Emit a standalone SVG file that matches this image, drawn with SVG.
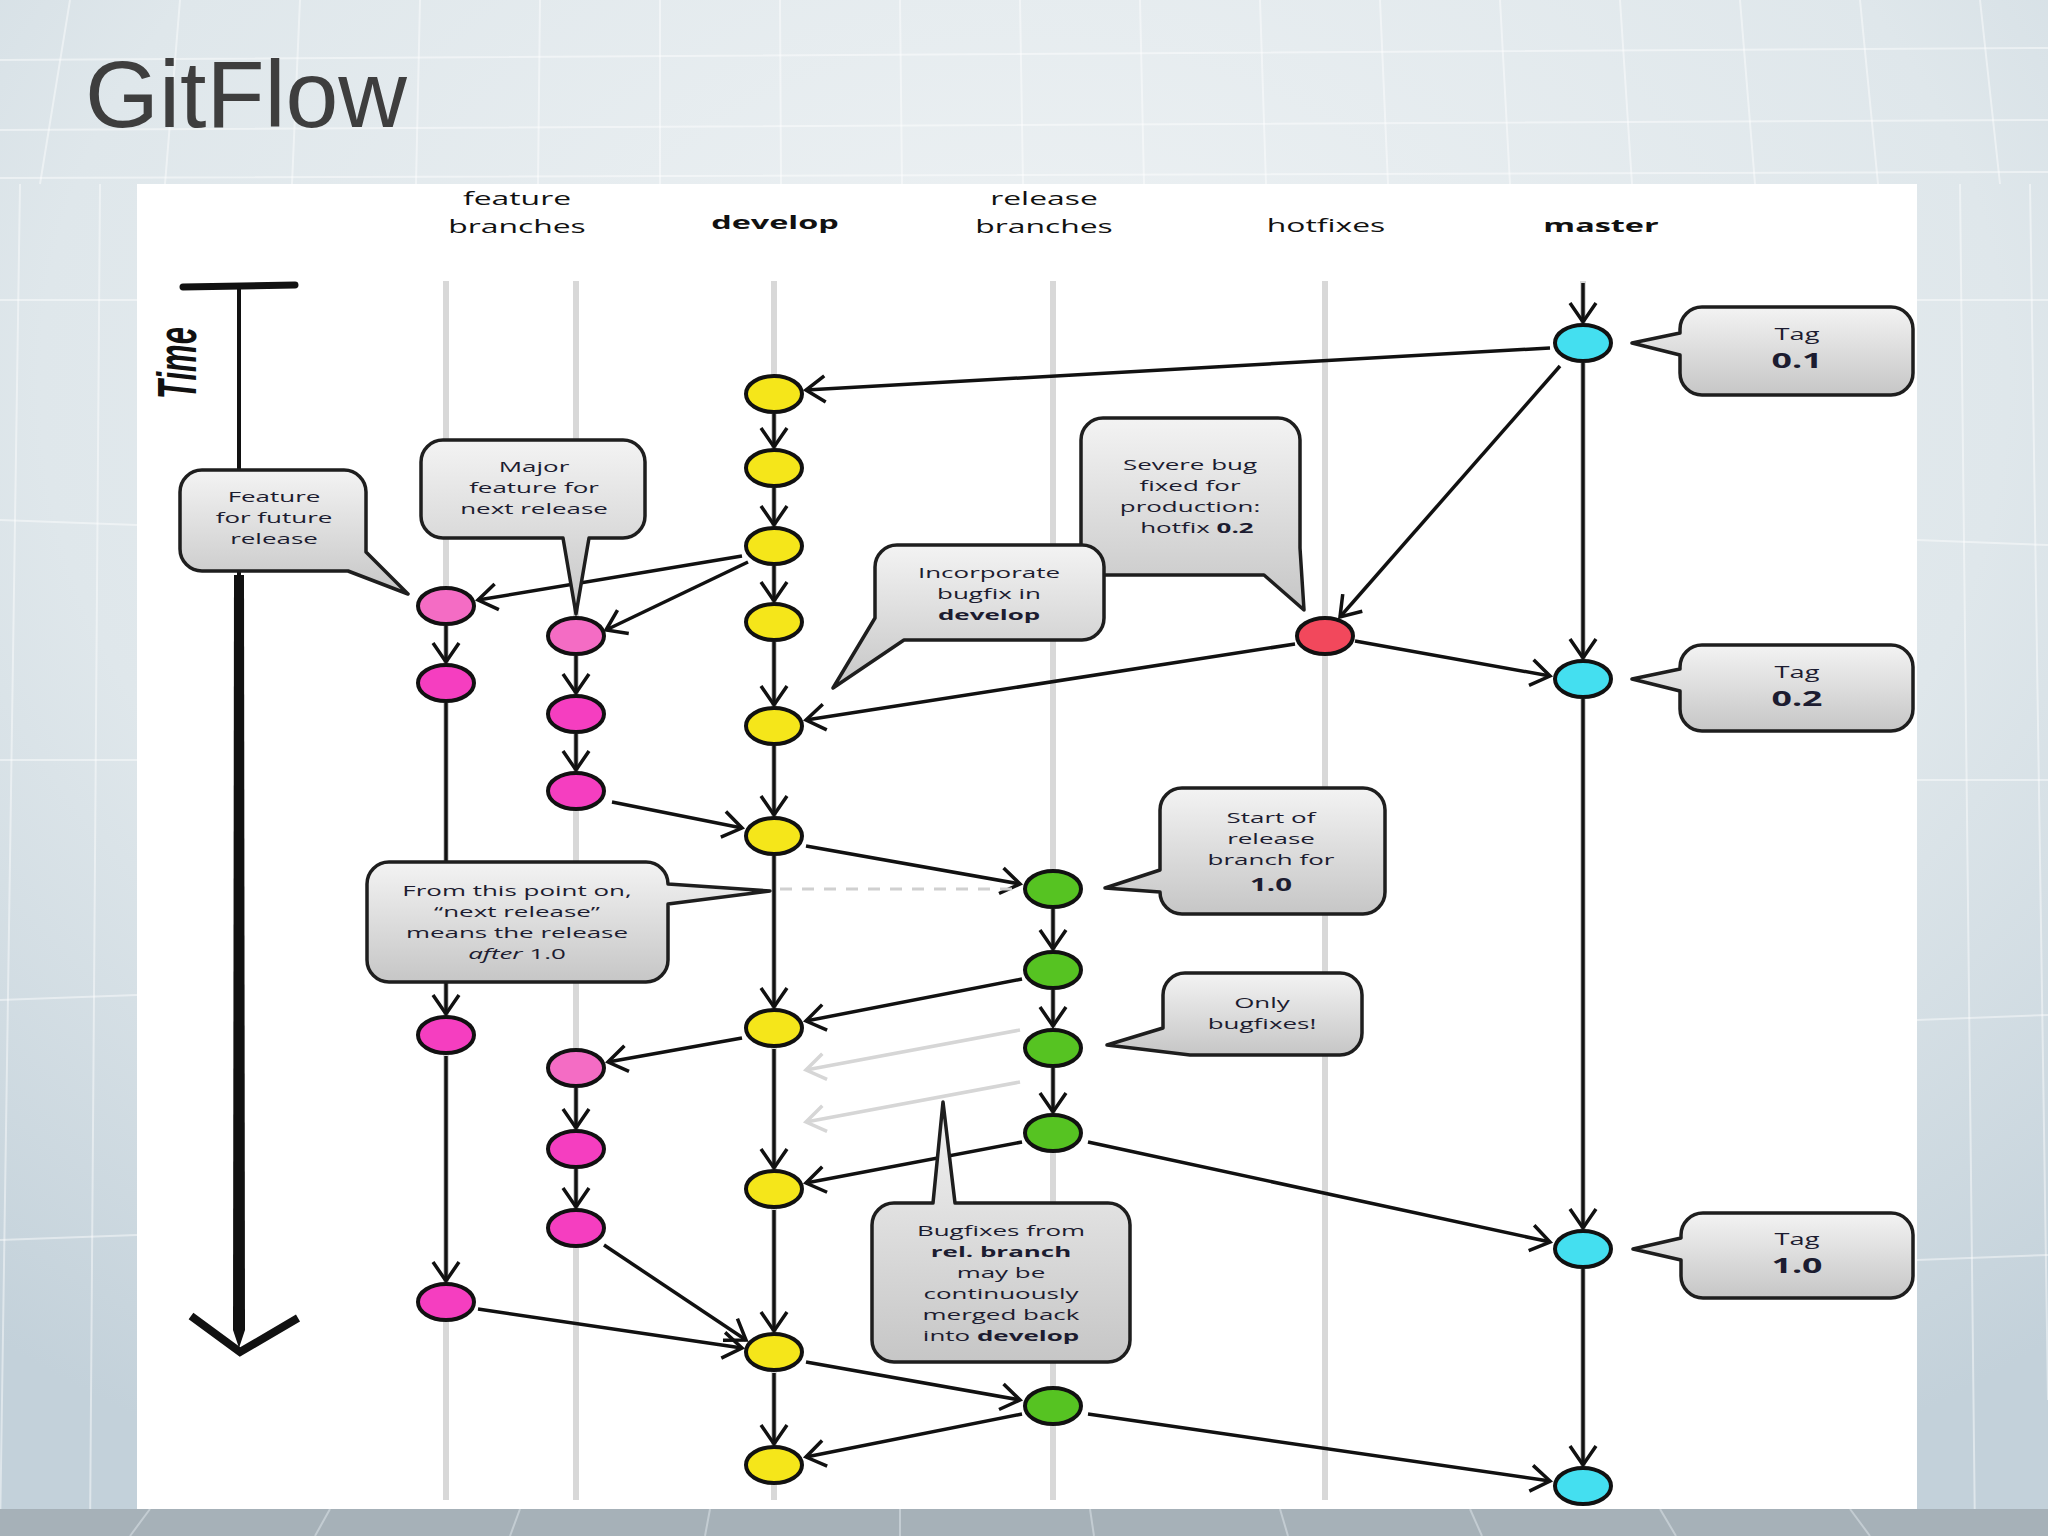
<svg xmlns="http://www.w3.org/2000/svg" width="2048" height="1536" viewBox="0 0 2048 1536">
<defs>
<radialGradient id="bg" cx="0.5" cy="0.25" r="0.8">
<stop offset="0" stop-color="#eef2f4"/>
<stop offset="0.6" stop-color="#dfe7eb"/>
<stop offset="1" stop-color="#c3d1da"/>
</radialGradient>
<linearGradient id="cg" x1="0" y1="0" x2="0" y2="1">
<stop offset="0" stop-color="#f3f3f3"/>
<stop offset="1" stop-color="#c6c6c6"/>
</linearGradient>
<marker id="ah" markerUnits="userSpaceOnUse" markerWidth="30" markerHeight="30" viewBox="0 0 30 30" refX="26" refY="15" orient="auto">
<path d="M7,2 L26,15 L7,28" fill="none" stroke="#111" stroke-width="3.5" stroke-linejoin="miter"/>
</marker>
<marker id="ahg" markerUnits="userSpaceOnUse" markerWidth="30" markerHeight="30" viewBox="0 0 30 30" refX="26" refY="15" orient="auto">
<path d="M7,2 L26,15 L7,28" fill="none" stroke="#d6d6d6" stroke-width="3.5"/>
</marker>
<style>
.hd{font-family:"Open Sans","Noto Sans",sans-serif;font-size:18px;fill:#111;text-anchor:middle}
.b{font-weight:bold}
.ct{font-family:"Open Sans","Noto Sans",sans-serif;font-size:15px;fill:#1c1c30;text-anchor:middle}
.tg{font-family:"Open Sans","Noto Sans",sans-serif;fill:#1c1c30;text-anchor:middle}
.lane{stroke:#d8d8d8;stroke-width:6}
.c{stroke:#111;stroke-width:3.5;fill:none}
.cf{stroke:#d6d6d6;stroke-width:3.5;fill:none}
.co{fill:url(#cg);stroke:#1e1e1e;stroke-width:3.5;stroke-linejoin:round}
.n{stroke:#111;stroke-width:4}
.y{fill:#f5e61a}.g{fill:#56c322}.cy{fill:#44dff0}.r{fill:#f2485c}.pl{fill:#f46cc4}.ph{fill:#f53ec0}
.grid{stroke:#ffffff;stroke-opacity:0.45;stroke-width:2;fill:none}
</style>
</defs>

<!-- slide background -->
<rect x="0" y="0" width="2048" height="1536" fill="url(#bg)"/>
<g class="grid">
<path d="M70,0 L40,184 M180,0 L165,184 M300,0 L292,184 M420,0 L416,184 M540,0 L538,184 M660,0 L660,184 M780,0 L781,184 M900,0 L902,184 M1020,0 L1023,184 M1140,0 L1144,184 M1260,0 L1266,184 M1380,0 L1388,184 M1500,0 L1510,184 M1620,0 L1632,184 M1740,0 L1755,184 M1860,0 L1878,184 M1980,0 L2000,184"/>
<path d="M0,60 L2048,48 M0,130 L2048,120 M0,178 L2048,172"/>
<path d="M20,184 L0,1536 M100,184 L90,1536 M1960,184 L1975,1536 M2030,184 L2048,1400"/>
<path d="M0,300 L137,300 M0,520 L137,525 M0,760 L137,760 M0,1000 L137,995 M0,1240 L137,1235 M1917,300 L2048,300 M1917,540 L2048,545 M1917,780 L2048,780 M1917,1020 L2048,1015 M1917,1260 L2048,1255"/>
</g>
<rect x="0" y="1509" width="2048" height="27" fill="#a6b1b8"/>
<path d="M150,1509 L130,1536 M330,1509 L315,1536 M520,1509 L510,1536 M710,1509 L705,1536 M900,1509 L900,1536 M1090,1509 L1094,1536 M1280,1509 L1288,1536 M1470,1509 L1482,1536 M1660,1509 L1676,1536 M1850,1509 L1870,1536" stroke="#c3ccd2" stroke-width="2"/>

<!-- title -->
<text id="title" x="85" y="127" font-family="Liberation Sans, Arial, sans-serif" font-size="95" fill="#3e3e3e">GitFlow</text>

<!-- white panel -->
<rect id="panel" x="137" y="184" width="1780" height="1325" fill="#ffffff"/>

<!-- column headers -->
<g id="headers">
<text class="hd" transform="translate(517,0) scale(1.77,1)"><tspan x="0" y="205">feature</tspan><tspan x="0" y="233">branches</tspan></text>
<text class="hd b" transform="translate(775,0) scale(1.8,1)" x="0" y="229">develop</text>
<text class="hd" transform="translate(1044,0) scale(1.77,1)"><tspan x="0" y="205">release</tspan><tspan x="0" y="233">branches</tspan></text>
<text class="hd" transform="translate(1326,0) scale(1.77,1)" x="0" y="232">hotfixes</text>
<text class="hd b" transform="translate(1601,0) scale(1.8,1)" x="0" y="232">master</text>
</g>

<!-- lanes -->
<g id="lanes">
<line class="lane" x1="446" y1="281" x2="446" y2="1500"/>
<line class="lane" x1="576" y1="281" x2="576" y2="1500"/>
<line class="lane" x1="774" y1="281" x2="774" y2="1500"/>
<line class="lane" x1="1053" y1="281" x2="1053" y2="1500"/>
<line class="lane" x1="1325" y1="281" x2="1325" y2="1500"/>
<line class="lane" x1="1583" y1="281" x2="1583" y2="1500"/>
</g>

<!-- time axis -->
<g id="time">
<path d="M183,287 L295,285" stroke="#111" stroke-width="7" stroke-linecap="round"/>
<line x1="239" y1="287" x2="239" y2="580" stroke="#111" stroke-width="4"/>
<path d="M234,575 L244,575 L245,1330 L239,1348 L233,1330 Z" fill="#111"/>
<path d="M191,1316 L240,1352 L298,1318" fill="none" stroke="#111" stroke-width="8" stroke-linejoin="miter"/>
<text transform="translate(196,363) rotate(-90) scale(1,1.8)" font-family="Liberation Sans, Arial, sans-serif" font-size="31" font-weight="bold" font-style="italic" text-anchor="middle" fill="#111">Time</text>
</g>

<!-- connectors -->
<g id="connectors">
<g marker-end="url(#ah)" class="c">
<line x1="774" y1="414" x2="774" y2="447"/>
<line x1="774" y1="488" x2="774" y2="525"/>
<line x1="774" y1="566" x2="774" y2="601"/>
<line x1="774" y1="642" x2="774" y2="705"/>
<line x1="774" y1="746" x2="774" y2="815"/>
<line x1="774" y1="856" x2="774" y2="1007"/>
<line x1="774" y1="1049" x2="774" y2="1168"/>
<line x1="774" y1="1210" x2="774" y2="1331"/>
<line x1="774" y1="1373" x2="774" y2="1444"/>
<line x1="446" y1="626" x2="446" y2="662"/>
<line x1="446" y1="703" x2="446" y2="1014"/>
<line x1="446" y1="1056" x2="446" y2="1281"/>
<line x1="576" y1="656" x2="576" y2="693"/>
<line x1="576" y1="734" x2="576" y2="770"/>
<line x1="576" y1="1088" x2="576" y2="1128"/>
<line x1="576" y1="1169" x2="576" y2="1207"/>
<line x1="1053" y1="909" x2="1053" y2="949"/>
<line x1="1053" y1="990" x2="1053" y2="1026"/>
<line x1="1053" y1="1068" x2="1053" y2="1112"/>
<line x1="1583" y1="283" x2="1583" y2="322"/>
<line x1="1583" y1="363" x2="1583" y2="658"/>
<line x1="1583" y1="699" x2="1583" y2="1228"/>
<line x1="1583" y1="1269" x2="1583" y2="1465"/>
<line x1="1550" y1="348" x2="806" y2="390"/>
<line x1="1560" y1="366" x2="1340" y2="617"/>
<line x1="1355" y1="641" x2="1550" y2="676"/>
<line x1="1295" y1="644" x2="806" y2="720"/>
<line x1="742" y1="556" x2="478" y2="600"/>
<line x1="748" y1="562" x2="606" y2="630"/>
<line x1="612" y1="802" x2="742" y2="828"/>
<line x1="806" y1="846" x2="1020" y2="884"/>
<line x1="1022" y1="979" x2="806" y2="1021"/>
<line x1="742" y1="1038" x2="608" y2="1062"/>
<line x1="1022" y1="1142" x2="806" y2="1183"/>
<line x1="1088" y1="1142" x2="1550" y2="1242"/>
<line x1="604" y1="1245" x2="746" y2="1340"/>
<line x1="478" y1="1309" x2="742" y2="1348"/>
<line x1="806" y1="1362" x2="1020" y2="1400"/>
<line x1="1022" y1="1414" x2="806" y2="1457"/>
<line x1="1088" y1="1414" x2="1550" y2="1481"/>
</g>
<g marker-end="url(#ahg)" class="cf">
<line x1="1020" y1="1030" x2="806" y2="1070"/>
<line x1="1020" y1="1082" x2="806" y2="1122"/>
</g>
<line x1="780" y1="889" x2="1022" y2="889" stroke="#d0d0d0" stroke-width="3" stroke-dasharray="12 10"/>
</g>

<!-- nodes -->
<g id="nodes">
<g id="develop-1"><ellipse class="n y" cx="774" cy="394" rx="28" ry="18"/></g>
<g id="develop-2"><ellipse class="n y" cx="774" cy="468" rx="28" ry="18"/></g>
<g id="develop-3"><ellipse class="n y" cx="774" cy="546" rx="28" ry="18"/></g>
<g id="develop-4"><ellipse class="n y" cx="774" cy="622" rx="28" ry="18"/></g>
<g id="develop-5"><ellipse class="n y" cx="774" cy="726" rx="28" ry="18"/></g>
<g id="develop-6"><ellipse class="n y" cx="774" cy="836" rx="28" ry="18"/></g>
<g id="develop-7"><ellipse class="n y" cx="774" cy="1028" rx="28" ry="18"/></g>
<g id="develop-8"><ellipse class="n y" cx="774" cy="1189" rx="28" ry="18"/></g>
<g id="develop-9"><ellipse class="n y" cx="774" cy="1352" rx="28" ry="18"/></g>
<g id="develop-10"><ellipse class="n y" cx="774" cy="1465" rx="28" ry="18"/></g>
<g id="feature1-1"><ellipse class="n pl" cx="446" cy="606" rx="28" ry="18"/></g>
<g id="feature1-2"><ellipse class="n ph" cx="446" cy="683" rx="28" ry="18"/></g>
<g id="feature1-3"><ellipse class="n ph" cx="446" cy="1035" rx="28" ry="18"/></g>
<g id="feature1-4"><ellipse class="n ph" cx="446" cy="1302" rx="28" ry="18"/></g>
<g id="feature2-1"><ellipse class="n pl" cx="576" cy="636" rx="28" ry="18"/></g>
<g id="feature2-2"><ellipse class="n ph" cx="576" cy="714" rx="28" ry="18"/></g>
<g id="feature2-3"><ellipse class="n ph" cx="576" cy="791" rx="28" ry="18"/></g>
<g id="feature2-4"><ellipse class="n pl" cx="576" cy="1068" rx="28" ry="18"/></g>
<g id="feature2-5"><ellipse class="n ph" cx="576" cy="1149" rx="28" ry="18"/></g>
<g id="feature2-6"><ellipse class="n ph" cx="576" cy="1228" rx="28" ry="18"/></g>
<g id="release-1"><ellipse class="n g" cx="1053" cy="889" rx="28" ry="18"/></g>
<g id="release-2"><ellipse class="n g" cx="1053" cy="970" rx="28" ry="18"/></g>
<g id="release-3"><ellipse class="n g" cx="1053" cy="1048" rx="28" ry="18"/></g>
<g id="release-4"><ellipse class="n g" cx="1053" cy="1133" rx="28" ry="18"/></g>
<g id="release-5"><ellipse class="n g" cx="1053" cy="1406" rx="28" ry="18"/></g>
<g id="hotfix-1"><ellipse class="n r" cx="1325" cy="636" rx="28" ry="18"/></g>
<g id="master-1"><ellipse class="n cy" cx="1583" cy="343" rx="28" ry="18"/></g>
<g id="master-2"><ellipse class="n cy" cx="1583" cy="679" rx="28" ry="18"/></g>
<g id="master-3"><ellipse class="n cy" cx="1583" cy="1249" rx="28" ry="18"/></g>
<g id="master-4"><ellipse class="n cy" cx="1583" cy="1486" rx="28" ry="18"/></g>
</g>

<!-- callouts -->
<g id="callout-future">
<path class="co" d="M202,470 H344 A22,22 0 0 1 366,492 V552 L408,594 L348,571 H202 A22,22 0 0 1 180,549 V492 A22,22 0 0 1 202,470 Z"/>
<text class="ct" transform="translate(274,0) scale(1.73,1)"><tspan x="0" y="502">Feature</tspan><tspan x="0" y="523">for future</tspan><tspan x="0" y="544">release</tspan></text>
</g>
<g id="callout-major">
<path class="co" d="M443,440 H623 A22,22 0 0 1 645,462 V516 A22,22 0 0 1 623,538 H589 L576,614 L563,538 H443 A22,22 0 0 1 421,516 V462 A22,22 0 0 1 443,440 Z"/>
<text class="ct" transform="translate(534,0) scale(1.73,1)"><tspan x="0" y="472">Major</tspan><tspan x="0" y="493">feature for</tspan><tspan x="0" y="514">next release</tspan></text>
</g>
<g id="callout-severe">
<path class="co" d="M1103,418 H1278 A22,22 0 0 1 1300,440 V548 L1304,610 L1264,575 H1103 A22,22 0 0 1 1081,553 V440 A22,22 0 0 1 1103,418 Z"/>
<text class="ct" transform="translate(1190,0) scale(1.73,1)"><tspan x="0" y="470">Severe bug</tspan><tspan x="0" y="491">fixed for</tspan><tspan x="0" y="512">production:</tspan><tspan x="4" y="533">hotfix <tspan class="b">0.2</tspan></tspan></text>
</g>
<g id="callout-incorporate">
<path class="co" d="M897,545 H1082 A22,22 0 0 1 1104,567 V618 A22,22 0 0 1 1082,640 H904 L833,688 L875,618 V567 A22,22 0 0 1 897,545 Z"/>
<text class="ct" transform="translate(989,0) scale(1.73,1)"><tspan x="0" y="578">Incorporate</tspan><tspan x="0" y="599">bugfix in</tspan><tspan x="0" y="620" class="b">develop</tspan></text>
</g>
<g id="tag-01">
<path class="co" d="M1702,307 H1891 A22,22 0 0 1 1913,329 V373 A22,22 0 0 1 1891,395 H1702 A22,22 0 0 1 1680,373 V355 L1632,343 L1680,333 V329 A22,22 0 0 1 1702,307 Z"/>
<text class="tg" transform="translate(1797,0) scale(1.7,1)"><tspan x="0" y="340" font-size="16">Tag</tspan><tspan class="b" x="0" y="368" font-size="21">0.1</tspan></text>
</g>
<g id="tag-02">
<path class="co" d="M1702,645 H1891 A22,22 0 0 1 1913,667 V709 A22,22 0 0 1 1891,731 H1702 A22,22 0 0 1 1680,709 V691 L1632,679 L1680,669 V667 A22,22 0 0 1 1702,645 Z"/>
<text class="tg" transform="translate(1797,0) scale(1.7,1)"><tspan x="0" y="678" font-size="16">Tag</tspan><tspan class="b" x="0" y="706" font-size="21">0.2</tspan></text>
</g>
<g id="tag-10">
<path class="co" d="M1703,1213 H1891 A22,22 0 0 1 1913,1235 V1276 A22,22 0 0 1 1891,1298 H1703 A22,22 0 0 1 1681,1276 V1260 L1633,1249 L1681,1238 V1235 A22,22 0 0 1 1703,1213 Z"/>
<text class="tg" transform="translate(1797,0) scale(1.7,1)"><tspan x="0" y="1245" font-size="16">Tag</tspan><tspan class="b" x="0" y="1273" font-size="21">1.0</tspan></text>
</g>
<g id="callout-start-release">
<path class="co" d="M1182,788 H1363 A22,22 0 0 1 1385,810 V892 A22,22 0 0 1 1363,914 H1182 A22,22 0 0 1 1160,892 L1105,888 L1160,870 V810 A22,22 0 0 1 1182,788 Z"/>
<text class="ct" transform="translate(1271,0) scale(1.73,1)"><tspan x="0" y="823">Start of</tspan><tspan x="0" y="844">release</tspan><tspan x="0" y="865">branch for</tspan><tspan class="b" x="0" y="891" font-size="17">1.0</tspan></text>
</g>
<g id="callout-next-release">
<path class="co" d="M389,862 H646 A22,22 0 0 1 668,884 L770,891 L668,904 V960 A22,22 0 0 1 646,982 H389 A22,22 0 0 1 367,960 V884 A22,22 0 0 1 389,862 Z"/>
<text class="ct" transform="translate(517,0) scale(1.73,1)"><tspan x="0" y="896">From this point on,</tspan><tspan x="0" y="917">“next release”</tspan><tspan x="0" y="938">means the release</tspan><tspan x="0" y="959"><tspan font-style="italic">after</tspan> 1.0</tspan></text>
</g>
<g id="callout-bugfixes">
<path class="co" d="M1185,973 H1340 A22,22 0 0 1 1362,995 V1033 A22,22 0 0 1 1340,1055 H1190 L1107,1045 L1163,1028 V995 A22,22 0 0 1 1185,973 Z"/>
<text class="ct" transform="translate(1262,0) scale(1.73,1)"><tspan x="0" y="1008">Only</tspan><tspan x="0" y="1029">bugfixes!</tspan></text>
</g>
<g id="callout-merge-back">
<path class="co" d="M894,1203 H933 L943,1102 L955,1203 H1108 A22,22 0 0 1 1130,1225 V1340 A22,22 0 0 1 1108,1362 H894 A22,22 0 0 1 872,1340 V1225 A22,22 0 0 1 894,1203 Z"/>
<text class="ct" transform="translate(1001,0) scale(1.73,1)"><tspan x="0" y="1236">Bugfixes from</tspan><tspan class="b" x="0" y="1257">rel. branch</tspan><tspan x="0" y="1278">may be</tspan><tspan x="0" y="1299">continuously</tspan><tspan x="0" y="1320">merged back</tspan><tspan x="0" y="1341">into <tspan class="b">develop</tspan></tspan></text>
</g>
</svg>
